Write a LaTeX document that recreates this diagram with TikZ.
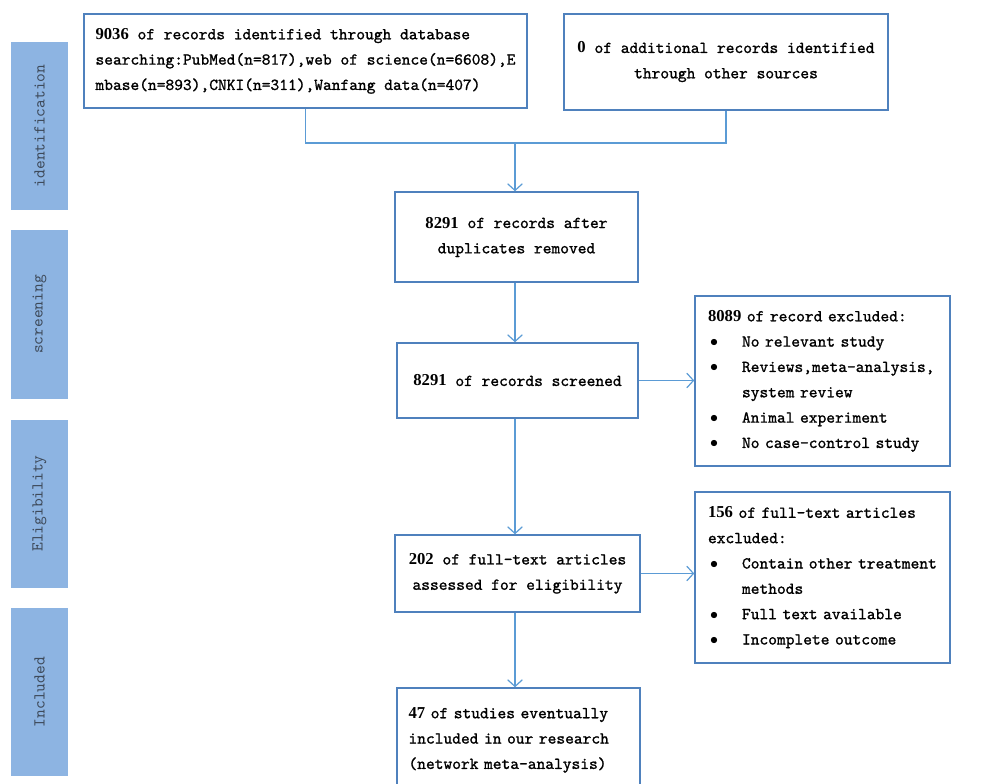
\documentclass[tikz,border=0pt]{standalone}
\usepackage{fontspec}
\setmonofont{lmmono10-regular.otf}[FakeBold=1.2]
\newfontfamily\bartt{lmmono10-regular.otf}
\newfontfamily\numfont{Liberation Serif}
\usetikzlibrary{arrows.meta}
\definecolor{boxline}{RGB}{79,129,189}
\definecolor{arrowc}{RGB}{91,155,213}
\definecolor{barfill}{RGB}{141,180,226}
\definecolor{bartext}{RGB}{62,74,90}
\tikzset{
  x=0.75pt, y=-0.75pt,
  txt/.style={font={\ttfamily\fontsize{12.5}{19}\selectfont}, text=black},
  box/.style={txt, draw=boxline, line width=1.1pt, inner sep=0pt, fill=white},
  bar/.style={draw=none, fill=barfill, inner sep=0pt, minimum width=57*0.75pt, minimum height=168*0.75pt,
    font={\bartt\fontsize{12.5}{14}\selectfont}, text=bartext},
  arr/.style={draw=arrowc, line width=0.9pt, -{Straight Barb[length=5pt,width=11pt]}},
  ln/.style={draw=arrowc, line width=0.9pt}
}
\newcommand{\nb}[1]{{\numfont\bfseries #1}}
\newcommand{\bl}{\makebox[25.5pt][l]{\hspace*{1.5pt}\large$\bullet$}}
\newcommand{\ind}{\hspace*{25.5pt}}
\begin{document}
\begin{tikzpicture}
\useasboundingbox (0,0) rectangle (982,784);
\clip (0,0) rectangle (982,784);
% side bars
\node[bar] (b1) at (39.5,126) {\rotatebox{90}{identification}};
\node[bar] (b2) at (39.5,314.5) {\rotatebox{90}{screening}};
\node[bar] (b3) at (39.5,503.5) {\rotatebox{90}{Eligibility}};
\node[bar] (b4) at (39.5,692) {\rotatebox{90}{Included}};
% boxes
\node[box, minimum width=443*0.75pt, minimum height=94*0.75pt, align=left] (n1) at (305.5,61)
  {\nb{9036} of records identified through database\\searching:PubMed(n=817),web of science(n=6608),E\\mbase(n=893),CNKI(n=311),Wanfang data(n=407)};
\node[box, minimum width=324*0.75pt, minimum height=96*0.75pt, align=center] (n2) at (726,62)
  {\nb{0} of additional records identified\\through other sources};
\node[box, minimum width=243*0.75pt, minimum height=90*0.75pt, align=center] (n3) at (516.5,237)
  {\nb{8291} of records after\\duplicates removed};
\node[box, minimum width=241*0.75pt, minimum height=75*0.75pt, align=center] (n4) at (517.5,380.5)
  {\nb{8291} of records screened};
\node[box, minimum width=255*0.75pt, minimum height=170*0.75pt, align=left, text width=229*0.75pt] (n5) at (822.5,381)
  {\nb{8089} of record excluded:\\\bl No relevant study\\\bl Reviews,meta-analysis,\\\ind system review\\\bl Animal experiment\\\bl No case-control study};
\node[box, minimum width=245*0.75pt, minimum height=77*0.75pt, align=center] (n6) at (517.5,573.5)
  {\nb{202} of full-text articles\\assessed for eligibility};
\node[box, minimum width=255*0.75pt, minimum height=171*0.75pt, align=left, text width=229*0.75pt] (n7) at (822.5,577.5)
  {\nb{156} of full-text articles\\excluded:\\\bl Contain other treatment\\\ind methods\\\bl Full text available\\\bl Incomplete outcome};
\node[box, minimum width=243*0.75pt, minimum height=104*0.75pt, align=left, text width=220*0.75pt] (n8) at (518.5,740)
  {\nb{47} of studies eventually\\included in our research\\(network meta-analysis)};
% connectors
\coordinate (m) at (515,143);
\draw[ln] (n1.south) |- (m);
\draw[ln] (n2.south) |- (m);
\draw[arr] (m) -- (m |- n3.north);
\draw[arr] (m |- n3.south) -- (m |- n4.north);
\draw[arr] (n4.east) -- (n4.east -| n5.west);
\draw[arr] (m |- n4.south) -- (m |- n6.north);
\draw[arr] (n6.east) -- (n6.east -| n7.west);
\draw[arr] (m |- n6.south) -- (m |- n8.north);
\end{tikzpicture}
\end{document}
